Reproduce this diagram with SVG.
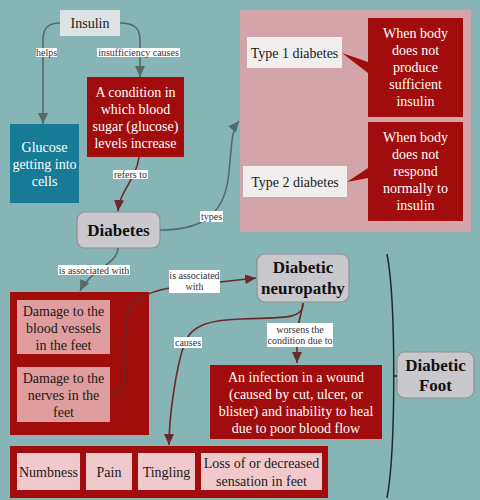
<svg xmlns="http://www.w3.org/2000/svg" width="480" height="500" viewBox="0 0 480 500" font-family="'Liberation Serif','DejaVu Serif','Times New Roman',serif">
<defs>
<style>
text{font-family:"Liberation Serif","DejaVu Serif","Times New Roman",serif;text-anchor:middle}
.t14{font-size:14px}
.w{fill:#ffffff}
.d{fill:#1a1a1a}
.b17{font-size:17px;font-weight:bold;fill:#111111}
.lbl{font-size:10px;fill:#333333}
.lb{fill:#ffffff}
.red{fill:#a10c0c}
.gnode{fill:#c9c9cd;stroke:#8e9094;stroke-width:1.2}
.cg{fill:none;stroke:#566a69;stroke-width:1.6}
.cb{fill:none;stroke:#6a2a2a;stroke-width:1.6}
</style>
<marker id="ag" markerUnits="userSpaceOnUse" markerWidth="12" markerHeight="10" refX="11" refY="5" orient="auto"><path d="M0,0 L11,5 L0,10 Z" fill="#566a69"/></marker>
<marker id="ab" markerUnits="userSpaceOnUse" markerWidth="12" markerHeight="10" refX="11" refY="5" orient="auto"><path d="M0,0 L11,5 L0,10 Z" fill="#6a2a2a"/></marker>
</defs>
<rect width="480" height="500" fill="#87b4b4"/>

<g id="types-panel">
<rect x="240" y="10" width="231" height="222" fill="#d3a4a9"/>
</g>

<g id="insulin">
<rect x="60" y="10" width="60" height="26" fill="#dde2e3"/>
<text x="90" y="28" class="t14 d">Insulin</text>
</g>

<g id="glucose">
<rect x="10" y="124" width="69" height="79" fill="#177b98"/>
<text x="44.5" y="152" class="t14 w">Glucose</text>
<text x="44.5" y="169" class="t14 w">getting into</text>
<text x="44.5" y="186" class="t14 w">cells</text>
</g>

<g id="condition">
<rect x="87" y="77" width="97" height="80" class="red"/>
<text x="135.5" y="97" class="t14 w">A condition in</text>
<text x="135.5" y="114" class="t14 w">which blood</text>
<text x="135.5" y="131" class="t14 w">sugar (glucose)</text>
<text x="135.5" y="148" class="t14 w">levels increase</text>
</g>

<g id="diabetes">
<rect x="77" y="212" width="83" height="36" rx="8" class="gnode"/>
<text x="118.5" y="236" class="b17">Diabetes</text>
</g>

<g id="type1">
<rect x="247" y="37" width="95" height="31" fill="#f1eeee"/>
<text x="294.5" y="57.5" class="t14 d">Type 1 diabetes</text>
</g>

<g id="type2">
<rect x="243" y="166" width="104" height="31" fill="#f1eeee"/>
<text x="295" y="186.5" class="t14 d">Type 2 diabetes</text>
</g>

<g id="type1-def">
<rect x="368" y="18" width="95" height="99" class="red"/>
<text x="415.5" y="38" class="t14 w">When body</text>
<text x="415.5" y="55" class="t14 w">does not</text>
<text x="415.5" y="72" class="t14 w">produce</text>
<text x="415.5" y="89" class="t14 w">sufficient</text>
<text x="415.5" y="106" class="t14 w">insulin</text>
</g>

<g id="type2-def">
<rect x="368" y="122" width="95" height="99" class="red"/>
<text x="415.5" y="142" class="t14 w">When body</text>
<text x="415.5" y="159" class="t14 w">does not</text>
<text x="415.5" y="176" class="t14 w">respond</text>
<text x="415.5" y="193" class="t14 w">normally to</text>
<text x="415.5" y="210" class="t14 w">insulin</text>
</g>

<g id="damage-group">
<rect x="10" y="292" width="139" height="143" class="red"/>
<rect x="17" y="300" width="93" height="54" fill="#e09d9d"/>
<text x="63.5" y="316" class="t14 d">Damage to the</text>
<text x="63.5" y="333" class="t14 d">blood vessels</text>
<text x="63.5" y="350" class="t14 d">in the feet</text>
<rect x="17" y="367" width="93" height="55" fill="#e09d9d"/>
<text x="63.5" y="383" class="t14 d">Damage to the</text>
<text x="63.5" y="400" class="t14 d">nerves in the</text>
<text x="63.5" y="417" class="t14 d">feet</text>
</g>

<g id="neuropathy">
<rect x="257" y="254" width="92" height="48" rx="8" class="gnode"/>
<text x="303" y="273" class="b17">Diabetic</text>
<text x="303" y="294" class="b17">neuropathy</text>
</g>

<g id="infection">
<rect x="210" y="365" width="172" height="74" class="red"/>
<text x="296" y="382" class="t14 w">An infection in a wound</text>
<text x="296" y="399" class="t14 w">(caused by cut, ulcer, or</text>
<text x="296" y="416" class="t14 w">blister) and inability to heal</text>
<text x="296" y="433" class="t14 w">due to poor blood flow</text>
</g>

<g id="diabetic-foot">
<rect x="397" y="352" width="77" height="46" rx="8" class="gnode"/>
<text x="435.5" y="371" class="b17">Diabetic</text>
<text x="435.5" y="391" class="b17">Foot</text>
</g>

<g id="symptoms">
<rect x="10" y="446" width="318" height="52" class="red"/>
<rect x="17" y="453" width="63" height="37" fill="#f1c9cc"/>
<text x="48.5" y="477" class="t14 d">Numbness</text>
<rect x="86" y="453" width="46" height="37" fill="#f1c9cc"/>
<text x="109" y="477" class="t14 d">Pain</text>
<rect x="138" y="453" width="57" height="37" fill="#f1c9cc"/>
<text x="166.5" y="477" class="t14 d">Tingling</text>
<rect x="201" y="453" width="121" height="37" fill="#f1c9cc"/>
<text x="261.5" y="468" class="t14 d">Loss of or decreased</text>
<text x="261.5" y="486" class="t14 d">sensation in feet</text>
</g>

<g id="connectors">
<path class="cg" d="M60,23 C48,23 43,28 43,40 L43,124" marker-end="url(#ag)"/>
<path class="cg" d="M120,23 C134,23 140,28 140,40 L140,77" marker-end="url(#ag)"/>
<path class="cb" d="M139,157 C136,180 120,190 118,211" marker-end="url(#ab)"/>
<path class="cg" d="M160,230 C195,230 222,220 228,180 C232,150 230,132 239,121" marker-end="url(#ag)"/>
<path class="cg" d="M118,248 C118,264 90,270 80,291" marker-end="url(#ag)"/>
<path class="cb" d="M110,395 C124,395 125,385 125,360 L126,325 C127,300 145,292 175,287 L256,278" marker-end="url(#ab)"/>
<path class="cb" d="M303,303 C303,318 290,318 240,319 C210,320 192,325 185,342 C175,370 169,420 169,445" marker-end="url(#ab)"/>
<path class="cb" d="M303,303 C302,315 297,320 297,340 L297,363" marker-end="url(#ab)"/>
<path d="M387,254 C396,300 396,450 387,498" fill="none" stroke="#1f2b2b" stroke-width="1.5"/>
<path d="M393,376 L397,376" fill="none" stroke="#1f2b2b" stroke-width="1.5"/>
<polygon class="red" points="342,53 368,62 368,73"/>
<polygon class="red" points="347,182 368,168 368,178"/>
<rect x="36" y="48" width="21" height="9" class="lb"/>
<text x="46.5" y="56" class="lbl">helps</text>
<rect x="97" y="48" width="83" height="9" class="lb"/>
<text x="138.5" y="56" class="lbl">insufficiency causes</text>
<rect x="113" y="170" width="35" height="9" class="lb"/>
<text x="130.5" y="178" class="lbl">refers to</text>
<rect x="200" y="211" width="23" height="11" class="lb"/>
<text x="211.5" y="220" class="lbl">types</text>
<rect x="58" y="265" width="72" height="10" class="lb"/>
<text x="94" y="273.5" class="lbl">is associated with</text>
<rect x="169" y="270" width="51" height="23" class="lb"/>
<text x="194.5" y="278.5" class="lbl">is associated</text>
<text x="194.5" y="290" class="lbl">with</text>
<rect x="174" y="337" width="28" height="11" class="lb"/>
<text x="188" y="346" class="lbl">causes</text>
<rect x="267" y="323" width="66" height="24" class="lb"/>
<text x="300" y="332.5" class="lbl">worsens the</text>
<text x="300" y="344" class="lbl">condition due to</text>
</g>
</svg>
